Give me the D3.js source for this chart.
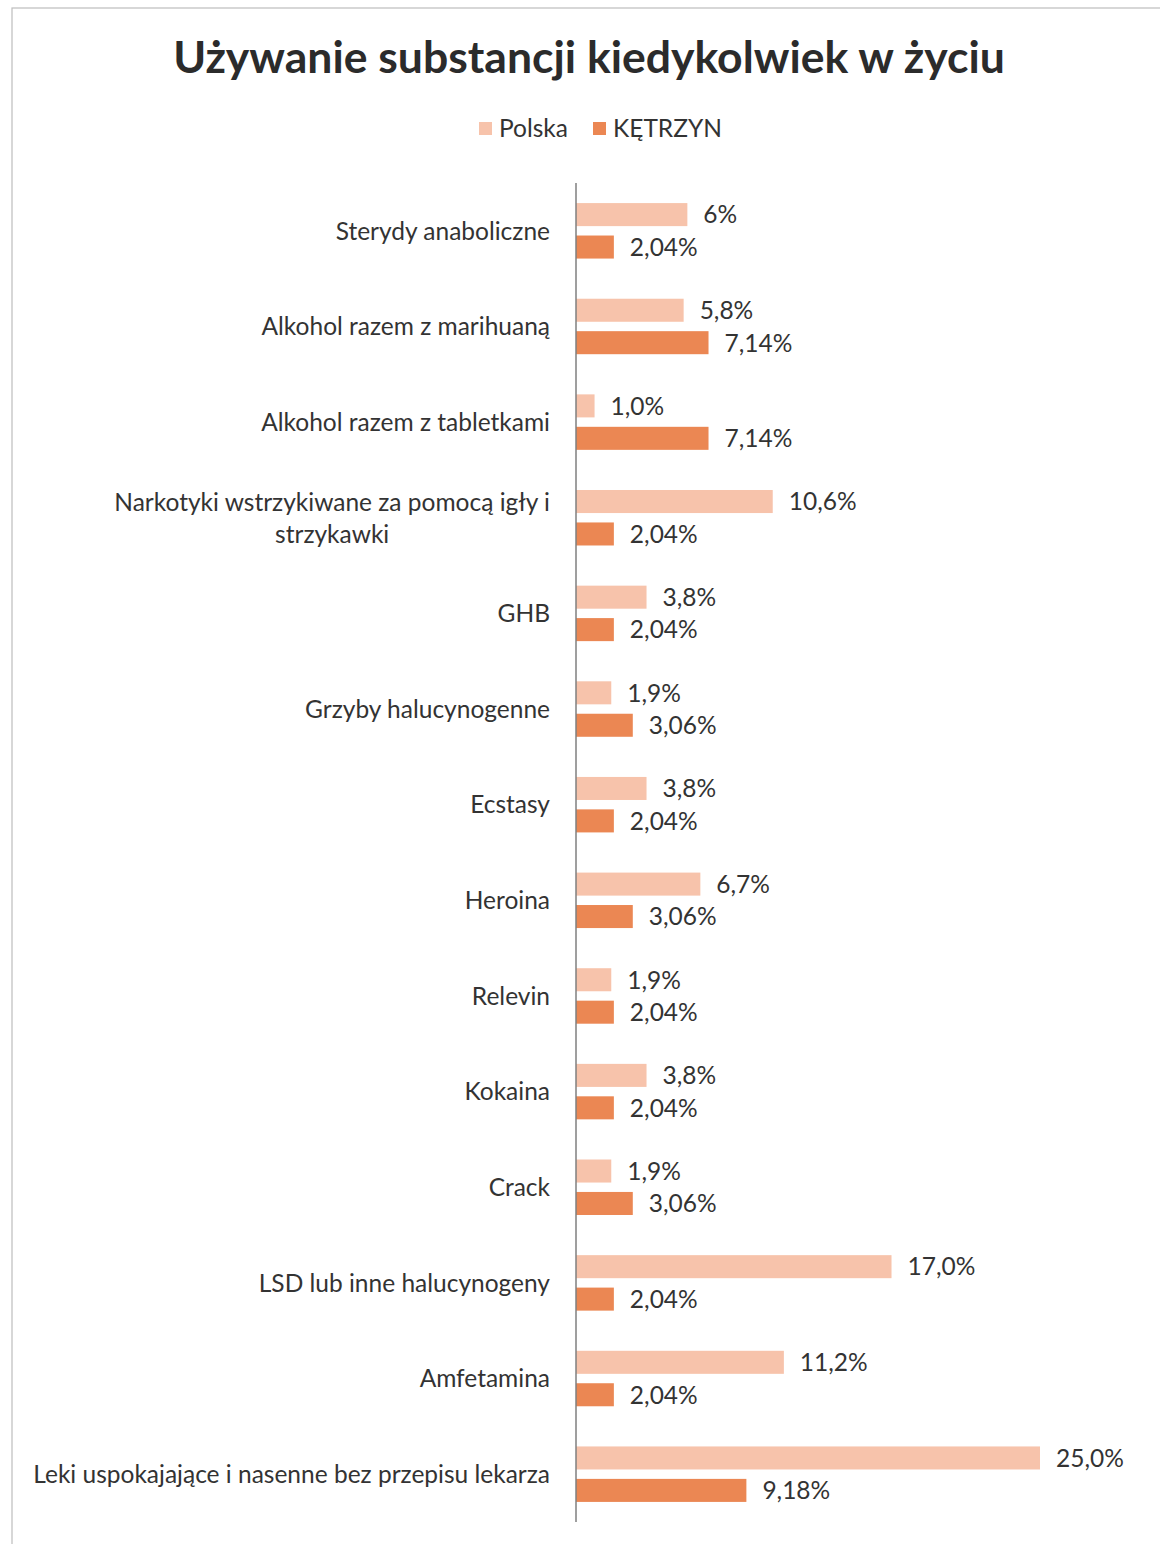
<!DOCTYPE html>
<html><head><meta charset="utf-8">
<script src="https://cdn.jsdelivr.net/npm/d3@7"></script>
<style>body{margin:0;background:#fff}</style>
</head><body>
<svg id="c" width="1160" height="1544"></svg>
<script>
const title = "Używanie substancji kiedykolwiek w życiu";
const seriesNames = ["Polska", "KĘTRZYN"];
const categories = [
  "Sterydy anaboliczne",
  "Alkohol razem z marihuaną",
  "Alkohol razem z tabletkami",
  "Narkotyki wstrzykiwane za pomocą igły i|strzykawki",
  "GHB",
  "Grzyby halucynogenne",
  "Ecstasy",
  "Heroina",
  "Relevin",
  "Kokaina",
  "Crack",
  "LSD lub inne halucynogeny",
  "Amfetamina",
  "Leki uspokajające i nasenne bez przepisu lekarza"
];
const polska = [6, 5.8, 1.0, 10.6, 3.8, 1.9, 3.8, 6.7, 1.9, 3.8, 1.9, 17.0, 11.2, 25.0];
const polskaLabels = ["6%", "5,8%", "1,0%", "10,6%", "3,8%", "1,9%", "3,8%", "6,7%", "1,9%", "3,8%", "1,9%", "17,0%", "11,2%", "25,0%"];
const ketrzyn = [2.04, 7.14, 7.14, 2.04, 2.04, 3.06, 2.04, 3.06, 2.04, 2.04, 3.06, 2.04, 2.04, 9.18];
const ketrzynLabels = ["2,04%", "7,14%", "7,14%", "2,04%", "2,04%", "3,06%", "2,04%", "3,06%", "2,04%", "2,04%", "3,06%", "2,04%", "2,04%", "9,18%"];
const colors = ["#f7c3ab", "#eb8753"];

const svg = d3.select("#c");
const font = "Lato, 'Open Sans', sans-serif";
const textColor = "#333";
const fs = 24.5;

// frame
svg.append("rect").attr("x", 12).attr("y", 8).attr("width", 1170).attr("height", 1560)
  .attr("fill", "none").attr("stroke", "#bdbdbd").attr("stroke-width", 1.2);

svg.append("text").attr("x", 589).attr("y", 73).attr("text-anchor", "middle")
  .attr("font-family", font).attr("font-weight", "bold").attr("font-size", 44.5)
  .attr("fill", "#2b2b2b").text(title);

const x = d3.scaleLinear().domain([0, 25]).range([576, 1040]);
const y = d3.scaleBand().domain(categories).range([183, 1522]).paddingInner(0.42).paddingOuter(0.21);
const ys = d3.scaleBand().domain([0, 1]).range([0, y.bandwidth()]).paddingInner(0.29);

// legend
const legendX = [479, 593];
seriesNames.forEach((s, i) => {
  const g = svg.append("g").attr("transform", `translate(${legendX[i]},122)`);
  g.append("rect").attr("width", 13).attr("height", 13).attr("fill", colors[i]);
  g.append("text").attr("x", 20).attr("y", 15).attr("font-family", font).attr("font-size", fs)
    .attr("fill", textColor).text(s);
});

const data = categories.map((c, i) => ({c, vals: [polska[i], ketrzyn[i]], labs: [polskaLabels[i], ketrzynLabels[i]]}));

const g = svg.append("g");
data.forEach(d => {
  d.vals.forEach((v, j) => {
    const yy = y(d.c) + ys(j);
    g.append("rect").attr("x", x(0)).attr("y", yy).attr("width", x(v) - x(0))
      .attr("height", ys.bandwidth()).attr("fill", colors[j]);
    g.append("text").attr("x", x(v) + 16).attr("y", yy + ys.bandwidth() / 2)
      .attr("dy", "0.36em").attr("font-family", font).attr("font-size", fs)
      .attr("fill", textColor).text(d.labs[j]);
  });
});

// category labels
data.forEach(d => {
  const lines = d.c.split("|");
  const cy = y(d.c) + y.bandwidth() / 2;
  const t = svg.append("text").attr("font-family", font).attr("font-size", fs).attr("fill", textColor);
  const lh = 32;
  lines.forEach((ln, k) => {
    t.append("tspan").attr("x", 550).attr("y", cy + (k - (lines.length - 1) / 2) * lh).attr("dy", "0.36em").text(ln);
  });
  if (lines.length > 1) {
    const w = t.node().getBBox().width;
    t.selectAll("tspan").attr("x", 550 - w / 2).attr("text-anchor", "middle");
  } else {
    t.attr("text-anchor", "end");
  }
});

// axis line
svg.append("line").attr("x1", x(0)).attr("x2", x(0)).attr("y1", 183).attr("y2", 1522)
  .attr("stroke", "#7f7f7f").attr("stroke-width", 1.5);
</script>
</body></html>
